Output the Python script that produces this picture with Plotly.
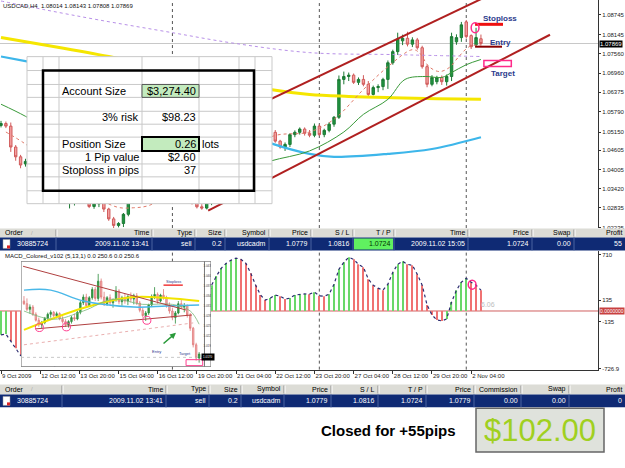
import plotly.graph_objects as go

W, H = 625, 468

# ---------------- main chart: USDCAD H4 bars (index 0 = 9 Oct 2009 04:00) ----------------
bar_index = list(range(99))
bar_open = [1.0536, 1.0542, 1.0534, 1.0470, 1.0440, 1.0418, 1.0426, 1.0400, 1.0385, 1.0392,
            1.0360, 1.0348, 1.0325, 1.0330, 1.0300, 1.0310, 1.0316, 1.0312, 1.0302, 1.0288,
            1.0296, 1.0301, 1.0280, 1.0250, 1.0230, 1.0236, 1.0264, 1.0302, 1.0318, 1.0335,
            1.0328, 1.0348, 1.0360, 1.0345, 1.0332, 1.0340, 1.0324, 1.0330, 1.0315, 1.0310,
            1.0298, 1.0287, 1.0283, 1.0316, 1.0360, 1.0395, 1.0425, 1.0450, 1.0470, 1.0482,
            1.0470, 1.0488, 1.0472, 1.0494, 1.0480, 1.0503, 1.0515, 1.0488, 1.0470, 1.0478,
            1.0508, 1.0515, 1.0525, 1.0512, 1.0506, 1.0534, 1.0508, 1.0521, 1.0540, 1.0561,
            1.0677, 1.0686, 1.0690, 1.0668, 1.0677, 1.0662, 1.0631, 1.0652, 1.0655, 1.0677,
            1.0728, 1.0762, 1.0795, 1.0803, 1.0785, 1.0798, 1.0774, 1.0716, 1.0662, 1.0670,
            1.0683, 1.0670, 1.0686, 1.0792, 1.0805, 1.0853, 1.0811, 1.0783, 1.08014]
bar_high = [1.0550, 1.0548, 1.0545, 1.0476, 1.0446, 1.0434, 1.0432, 1.0410, 1.0398, 1.0396,
            1.0372, 1.0356, 1.0338, 1.0334, 1.0318, 1.0322, 1.0328, 1.0318, 1.0308, 1.0300,
            1.0306, 1.0305, 1.0284, 1.0256, 1.0240, 1.0268, 1.0310, 1.0325, 1.0340, 1.0350,
            1.0355, 1.0372, 1.0368, 1.0352, 1.0345, 1.0348, 1.0336, 1.0338, 1.0326, 1.0318,
            1.0304, 1.0295, 1.0322, 1.0366, 1.0402, 1.0432, 1.0458, 1.0478, 1.0490, 1.0488,
            1.0494, 1.0492, 1.0498, 1.0500, 1.0508, 1.0522, 1.0522, 1.0492, 1.0484, 1.0512,
            1.0521, 1.0530, 1.0530, 1.0522, 1.0542, 1.0540, 1.0526, 1.0546, 1.0565, 1.0689,
            1.0701, 1.0698, 1.0695, 1.0683, 1.0690, 1.0672, 1.0658, 1.0662, 1.0682, 1.0735,
            1.0768, 1.0820, 1.0814, 1.0823, 1.0806, 1.0804, 1.0780, 1.0722, 1.0690, 1.0688,
            1.0689, 1.0692, 1.0820, 1.0815, 1.0853, 1.0859, 1.0815, 1.0835, 1.08143]
bar_low = [1.0530, 1.0528, 1.0455, 1.0428, 1.0405, 1.0410, 1.0395, 1.0378, 1.0370, 1.0355,
           1.0340, 1.0318, 1.0310, 1.0296, 1.0282, 1.0291, 1.0305, 1.0298, 1.0283, 1.0281,
           1.0286, 1.0271, 1.0244, 1.0222, 1.0224, 1.0225, 1.0258, 1.0296, 1.0310, 1.0322,
           1.0320, 1.0340, 1.0338, 1.0325, 1.0322, 1.0318, 1.0312, 1.0310, 1.0304, 1.0294,
           1.0282, 1.0278, 1.0279, 1.0292, 1.0352, 1.0388, 1.0418, 1.0442, 1.0462, 1.0460,
           1.0464, 1.0466, 1.0468, 1.0474, 1.0476, 1.0497, 1.0483, 1.0465, 1.0458, 1.0470,
           1.0500, 1.0508, 1.0505, 1.0500, 1.0500, 1.0504, 1.0500, 1.0515, 1.0532, 1.0556,
           1.0662, 1.0672, 1.0663, 1.0660, 1.0656, 1.0622, 1.0628, 1.0638, 1.0644, 1.0648,
           1.0722, 1.0752, 1.0782, 1.0778, 1.0776, 1.0768, 1.0710, 1.0653, 1.0656, 1.0662,
           1.0660, 1.0658, 1.0672, 1.0783, 1.0792, 1.0802, 1.0770, 1.0778, 1.07808]
bar_close = [1.0542, 1.0534, 1.0470, 1.0440, 1.0415, 1.0426, 1.0400, 1.0385, 1.0392, 1.0360,
             1.0348, 1.0325, 1.0330, 1.0300, 1.0310, 1.0316, 1.0312, 1.0302, 1.0288, 1.0296,
             1.0301, 1.0280, 1.0250, 1.0230, 1.0236, 1.0264, 1.0302, 1.0318, 1.0335, 1.0328,
             1.0348, 1.0360, 1.0345, 1.0332, 1.0340, 1.0324, 1.0330, 1.0315, 1.0310, 1.0298,
             1.0287, 1.0283, 1.0318, 1.0360, 1.0395, 1.0425, 1.0450, 1.0470, 1.0482, 1.0470,
             1.0488, 1.0472, 1.0494, 1.0480, 1.0503, 1.0515, 1.0488, 1.0470, 1.0478, 1.0508,
             1.0515, 1.0525, 1.0512, 1.0506, 1.0534, 1.0508, 1.0521, 1.0540, 1.0561, 1.0677,
             1.0686, 1.0690, 1.0668, 1.0677, 1.0662, 1.0631, 1.0652, 1.0655, 1.0677, 1.0728,
             1.0762, 1.0801, 1.0803, 1.0785, 1.0798, 1.0774, 1.0716, 1.0662, 1.0683, 1.0683,
             1.0670, 1.0686, 1.0808, 1.0805, 1.0844, 1.0808, 1.0777, 1.0805, 1.07869]

price_tick_values = [1.08745, 1.08145, 1.07560, 1.06960, 1.06375, 1.05790, 1.05150,
                     1.04605, 1.04005, 1.03420, 1.02835, 1.02235]
price_tick_text = ["1.08745", "1.08145", "1.07560", "1.06960", "1.06375", "1.05790", "1.05150",
                   "1.04605", "1.04005", "1.03420", "1.02835", "1.02235"]
last_price = 1.07869
header_text = "USDCAD,H4  1.08014 1.08143 1.07808 1.07869"

time_tick_index = [0, 8, 16, 24, 32, 40, 48, 56, 64, 72, 80, 88, 96]
time_tick_text = ["9 Oct 2009", "12 Oct 12:00", "13 Oct 20:00", "15 Oct 04:00", "16 Oct 12:00",
                  "19 Oct 20:00", "21 Oct 04:00", "22 Oct 12:00", "23 Oct 20:00", "27 Oct 04:00",
                  "28 Oct 12:00", "29 Oct 20:00", "2 Nov 04:00"]
week_start_index = [35, 65, 95]

# moving averages (value at selected bars)
ma_yellow_x = [0, 11, 22, 33, 44, 55, 63, 71, 80, 89, 98]
ma_yellow_y = [1.0805, 1.0777, 1.0747, 1.0713, 1.0680, 1.0646, 1.0631, 1.0625, 1.0621, 1.0618, 1.0616]
ma_blue_x = [0, 5, 15, 25, 35, 45, 55, 63, 68, 79, 88, 98]
ma_blue_y = [1.0747, 1.0733, 1.0705, 1.0660, 1.0605, 1.0540, 1.0482, 1.0449, 1.0440, 1.0449, 1.0464, 1.0500]
ma_green_x = [0, 5, 12, 20, 28, 36, 44, 50, 55, 63, 70, 74, 79, 82.5, 86.6, 90, 92, 95, 98]
ma_green_y = [1.0601, 1.0564, 1.0500, 1.0420, 1.0350, 1.0325, 1.0345, 1.0400, 1.0427, 1.0458,
              1.0516, 1.0570, 1.0616, 1.0677, 1.0686, 1.0683, 1.0698, 1.0722, 1.0738]
ma_salmon_x = [1, 5, 10, 15, 20, 24, 27, 30, 36, 42, 48, 55, 63, 68, 74, 79, 84, 85.4, 87.4, 89.5, 91.5, 93.5, 95.6, 98]
ma_salmon_y = [1.0516, 1.0479, 1.0420, 1.0350, 1.0310, 1.0285, 1.0284, 1.0290, 1.0330, 1.0300, 1.0400,
               1.0500, 1.0516, 1.0555, 1.0646, 1.0716, 1.0768, 1.0759, 1.0716, 1.0701, 1.0713,
               1.0747, 1.0777, 1.0783]
ma_purple_x = [0, 9, 20, 35, 47, 63, 80, 98]
ma_purple_y = [1.0917, 1.0890, 1.0859, 1.0820, 1.0789, 1.0759, 1.0753, 1.0747]

channel_upper_x = [42.3, 100.0]
channel_upper_y = [1.05255, 1.0937]
channel_lower_x = [42.3, 112.1]
channel_lower_y = [1.02752, 1.08137]

# trade marks drawn on chart
stop_mark = dict(x0=96.8, x1=102.5, y=1.08456, label_x=101.9, label_y=1.08623)
entry_mark = dict(x0=96.8, x1=102.3, y=1.07772, label_x=101.9, label_y=1.07908)
target_mark = dict(x0=98.6, x1=104.2, y0=1.07163, y1=1.07346, label_x=102.5, label_y=1.06965)
stop_circle = dict(x0=96.0, x1=97.6, y0=1.08197, y1=1.08502)

# ---------------- MACD(5,13,1) ----------------
macd_values = [-300, -290, -380, -470, -560, -580, -620, -660, -630, -650,
               -670, -690, -650, -660, -590, -510, -440, -420, -430, -390,
               -350, -370, -440, -520, -470, -360, -190, -40, 90, 130,
               190, 250, 230, 170, 150, 100, 80, 30, -10, -50,
               -90, -100, 110, 325, 440, 540, 600, 640, 665, 650,
               600, 475, 325, 200, 137, 162, 200, 187, 150, 162,
               200, 212, 215, 212, 237, 190, 185, 212, 337, 525,
               612, 675, 650, 587, 550, 400, 325, 287, 262, 337,
               487, 587, 625, 587, 575, 462, 325, 75, -50, -112,
               -125, -100, 112, 262, 362, 412, 362, 325, 262]
macd_tick_values = [710, 135, -135, -726.9]
macd_tick_text = ["710", "135", "-135", "-726.9"]
macd_title = "MACD_Colored_v102 (5,13,1) 0.0 250.6 0.0 250.6"
macd_circle = dict(x0=95.4, x1=97.0, y0=275, y1=387)

# ---------------- inset screenshot (earlier trade) ----------------
inset_index = list(range(60))
inset_open = [1.0330, 1.0322, 1.0305, 1.0312, 1.0290, 1.0272, 1.0258, 1.0265, 1.0278, 1.0290,
              1.0296, 1.0286, 1.0292, 1.0276, 1.0268, 1.0258, 1.0268, 1.0280, 1.0276, 1.0296,
              1.0325, 1.0342, 1.0316, 1.0340, 1.0365, 1.0338, 1.0390, 1.0342, 1.0322, 1.0340,
              1.0325, 1.0334, 1.0360, 1.0328, 1.0340, 1.0330, 1.0344, 1.0336, 1.0346, 1.0324,
              1.0302, 1.0286, 1.0294, 1.0318, 1.0344, 1.0350, 1.0330, 1.0348, 1.0340, 1.0316,
              1.0300, 1.0280, 1.0294, 1.0322, 1.0312, 1.0316, 1.0288, 1.0248, 1.0198, 1.0158]
inset_high = [1.0345, 1.0338, 1.0320, 1.0318, 1.0296, 1.0280, 1.0270, 1.0282, 1.0295, 1.0302,
              1.0300, 1.0298, 1.0296, 1.0284, 1.0275, 1.0272, 1.0285, 1.0292, 1.0300, 1.0330,
              1.0350, 1.0352, 1.0345, 1.0372, 1.0372, 1.0412, 1.0398, 1.0358, 1.0345, 1.0350,
              1.0338, 1.0375, 1.0366, 1.0346, 1.0352, 1.0348, 1.0356, 1.0352, 1.0354, 1.0330,
              1.0310, 1.0300, 1.0322, 1.0350, 1.0372, 1.0356, 1.0352, 1.0366, 1.0346, 1.0326,
              1.0310, 1.0300, 1.0330, 1.0334, 1.0324, 1.0320, 1.0294, 1.0252, 1.0204, 1.0176]
inset_low = [1.0318, 1.0300, 1.0292, 1.0285, 1.0268, 1.0252, 1.0248, 1.0260, 1.0270, 1.0280,
             1.0282, 1.0278, 1.0272, 1.0262, 1.0252, 1.0250, 1.0262, 1.0270, 1.0272, 1.0290,
             1.0318, 1.0310, 1.0312, 1.0334, 1.0330, 1.0330, 1.0335, 1.0315, 1.0316, 1.0318,
             1.0310, 1.0328, 1.0320, 1.0316, 1.0322, 1.0318, 1.0326, 1.0320, 1.0318, 1.0296,
             1.0280, 1.0270, 1.0288, 1.0312, 1.0336, 1.0322, 1.0326, 1.0334, 1.0310, 1.0292,
             1.0272, 1.0262, 1.0290, 1.0306, 1.0296, 1.0280, 1.0240, 1.0190, 1.0150, 1.0144]
inset_close = [1.0322, 1.0305, 1.0312, 1.0290, 1.0272, 1.0258, 1.0265, 1.0278, 1.0290, 1.0296,
               1.0286, 1.0292, 1.0276, 1.0268, 1.0258, 1.0268, 1.0280, 1.0276, 1.0296, 1.0325,
               1.0342, 1.0316, 1.0340, 1.0365, 1.0338, 1.0390, 1.0342, 1.0322, 1.0340, 1.0325,
               1.0334, 1.0360, 1.0328, 1.0340, 1.0330, 1.0344, 1.0336, 1.0346, 1.0324, 1.0302,
               1.0286, 1.0294, 1.0318, 1.0344, 1.0350, 1.0330, 1.0348, 1.0340, 1.0316, 1.0300,
               1.0280, 1.0294, 1.0322, 1.0312, 1.0316, 1.0288, 1.0248, 1.0198, 1.0158, 1.0170]
inset_yellow_x = [0, 20, 37, 48, 59]
inset_yellow_y = [1.0243, 1.0309, 1.0342, 1.0339, 1.0330]
inset_blue_x = [0, 9, 20, 37, 48, 59]
inset_blue_y = [1.0363, 1.0363, 1.0330, 1.0312, 1.0315, 1.0318]
inset_green_x = [0, 10, 20, 30, 40, 50, 56, 59]
inset_green_y = [1.0300, 1.0275, 1.0300, 1.0335, 1.0320, 1.0320, 1.0300, 1.0260]
inset_pink_x = [0, 57]
inset_pink_y = [1.0198, 1.0264]
inset_upper_x = [-0.3, 54.6]
inset_upper_y = [1.0435, 1.0303]
inset_lower_x = [4, 56.6]
inset_lower_y = [1.0246, 1.0288]
inset_circles = [(5.2, 1.0250), (14.3, 1.0252), (41.4, 1.0272)]
inset_tick_values = [1.0435, 1.0405, 1.0375, 1.0345, 1.0315, 1.0285, 1.0255, 1.0225, 1.0195]
inset_tick_text = ["1.0435", "1.0405", "1.0375", "1.0345", "1.0315", "1.0285", "1.0255", "1.0225", "1.0195"]

# ---------------- spreadsheet overlay ----------------
sheet_rows = [("Account Size", "$3,274.40", "", 91.5, "left"),
              ("3% risk", "$98.23", "", 118, "right"),
              ("Position Size", "0.26", "lots", 145, "left"),
              ("1 Pip value", "$2.60", "", 158.5, "right"),
              ("Stoploss in pips", "37", "", 171.5, "left")]

# ---------------- terminal rows ----------------
top_header = ["Order", "Time", "Type", "Size", "Symbol", "Price", "S / L", "T / P", "Time", "Price", "Swap", "Profit"]
top_row = ["30885724", "2009.11.02 13:41", "sell", "0.2", "usdcadm", "1.0779", "1.0816", "1.0724",
           "2009.11.02 15:05", "1.0724", "0.00", "55"]
bottom_header = ["Order", "Time", "Type", "Size", "Symbol", "Price", "S / L", "T / P", "Price", "Commission", "Swap", "Profit"]
bottom_row = ["30885724", "2009.11.02 13:41", "sell", "0.2", "usdcadm", "1.0779", "1.0816", "1.0724",
              "1.0779", "0.00", "0.00", "0"]
result_text = "Closed for +55pips"
result_money = "$102.00"

# ================= layout geometry (pixels) =================
MAIN_TOP, MAIN_BOT = 0, 229.5
MACD_TOP, MACD_BOT = 253, 372
PLOT_RIGHT = 598
X_RANGE = [-0.204, 121.9]
FONT = "Liberation Sans"


def P(x):
    return x / W


def Q(y):
    return 1 - y / H


shapes, annotations = [], []


def add_rect(x0, y0, x1, y1, fill=None, line=None, lw=0):
    shapes.append(dict(type="rect", xref="paper", yref="paper", x0=P(x0), x1=P(x1), y0=Q(y1), y1=Q(y0),
                       fillcolor=fill or "rgba(0,0,0,0)",
                       line=dict(color=line or "rgba(0,0,0,0)", width=lw), layer="above"))


def add_line(x0, y0, x1, y1, color, lw=1, dash="solid"):
    shapes.append(dict(type="line", xref="paper", yref="paper", x0=P(x0), x1=P(x1), y0=Q(y0), y1=Q(y1),
                       line=dict(color=color, width=lw, dash=dash), layer="above"))


def add_text(x, y, s, size=7, color="black", xanchor="left", bold=False, family=FONT, **kw):
    annotations.append(dict(xref="paper", yref="paper", x=P(x), y=Q(y),
                            text=f"<b>{s}</b>" if bold else s, showarrow=False,
                            xanchor=xanchor, yanchor="middle", borderpad=0,
                            font=dict(size=size, color=color, family=family), **kw))


fig = go.Figure()

# ---- main chart traces ----
fig.add_trace(go.Scatter(x=ma_purple_x, y=ma_purple_y, mode="lines", line=dict(color="#b890e8", width=1, dash="dot", shape="spline"),
                         xaxis="x", yaxis="y", hoverinfo="skip"))
fig.add_trace(go.Candlestick(x=bar_index, open=bar_open, high=bar_high, low=bar_low, close=bar_close,
                             increasing=dict(line=dict(color="#1c7a34", width=1), fillcolor="#1f9440"),
                             decreasing=dict(line=dict(color="#d05a5a", width=1), fillcolor="#f3a0a0"),
                             whiskerwidth=0, xaxis="x", yaxis="y", hoverinfo="skip"))
fig.add_trace(go.Scatter(x=ma_yellow_x, y=ma_yellow_y, mode="lines", line=dict(color="#f5e600", width=3, shape="spline"),
                         xaxis="x", yaxis="y", hoverinfo="skip"))
fig.add_trace(go.Scatter(x=ma_blue_x, y=ma_blue_y, mode="lines", line=dict(color="#3db6ea", width=2.2, shape="spline"),
                         xaxis="x", yaxis="y", hoverinfo="skip"))
fig.add_trace(go.Scatter(x=ma_green_x, y=ma_green_y, mode="lines", line=dict(color="#3a9a3a", width=1, shape="spline"),
                         xaxis="x", yaxis="y", hoverinfo="skip"))
fig.add_trace(go.Scatter(x=ma_salmon_x, y=ma_salmon_y, mode="lines", line=dict(color="#e07a6a", width=1, dash="dot", shape="spline"),
                         xaxis="x", yaxis="y", hoverinfo="skip"))
for cx, cy in ((channel_upper_x, channel_upper_y), (channel_lower_x, channel_lower_y)):
    fig.add_trace(go.Scatter(x=cx, y=cy, mode="lines", line=dict(color="#b02020", width=2),
                             xaxis="x", yaxis="y", hoverinfo="skip"))

# ---- MACD ----
macd_colors = ["#6ad86a" if (i == 0 or v >= macd_values[i - 1]) else "#f07272" for i, v in enumerate(macd_values)]
fig.add_trace(go.Bar(x=bar_index, y=macd_values, width=0.24, marker=dict(color=macd_colors, line=dict(width=0)),
                     xaxis="x2", yaxis="y2", hoverinfo="skip"))
fig.add_trace(go.Scatter(x=bar_index, y=macd_values, mode="lines", line=dict(color="#2c2c70", width=1.2, dash="dot"),
                         xaxis="x2", yaxis="y2", hoverinfo="skip"))

# ---- inset ----
ins_lo, ins_hi = 1.0132, 1.0450
fig.add_trace(go.Bar(x=[31], y=[ins_hi - ins_lo], base=[ins_lo], width=[64],
                     marker=dict(color="white", line=dict(color="#666666", width=1)),
                     xaxis="x3", yaxis="y3", hoverinfo="skip"))
fig.add_trace(go.Candlestick(x=inset_index, open=inset_open, high=inset_high, low=inset_low, close=inset_close,
                             increasing=dict(line=dict(color="#2a8a3a", width=0.8), fillcolor="#3aa04a"),
                             decreasing=dict(line=dict(color="#e07a7a", width=0.8), fillcolor="#f4b0b0"),
                             whiskerwidth=0, xaxis="x3", yaxis="y3", hoverinfo="skip"))
for xs, ys, st in ((inset_pink_x, inset_pink_y, dict(color="#eab0b0", width=1, dash="dot")),
                   (inset_yellow_x, inset_yellow_y, dict(color="#f2e400", width=2, shape="spline")),
                   (inset_blue_x, inset_blue_y, dict(color="#4ab8e8", width=1.5, shape="spline")),
                   (inset_green_x, inset_green_y, dict(color="#7ab87a", width=0.8, shape="spline")),
                   (inset_upper_x, inset_upper_y, dict(color="#b04040", width=1)),
                   (inset_lower_x, inset_lower_y, dict(color="#b04040", width=1))):
    fig.add_trace(go.Scatter(x=xs, y=ys, mode="lines", line=st, xaxis="x3", yaxis="y3", hoverinfo="skip"))
fig.add_trace(go.Scatter(x=[60.8, 60.8], y=[ins_lo, ins_hi], mode="lines", line=dict(color="#555", width=0.8),
                         xaxis="x3", yaxis="y3", hoverinfo="skip"))
fig.add_trace(go.Scatter(x=[-1, 60.8], y=[1.0160, 1.0160], mode="lines", line=dict(color="#bbbbbb", width=0.8, dash="dot"),
                         xaxis="x3", yaxis="y3", hoverinfo="skip"))
fig.add_trace(go.Scatter(x=[62] * len(inset_tick_values), y=inset_tick_values, mode="text", text=inset_tick_text,
                         textfont=dict(size=3, color="#444", family=FONT), xaxis="x3", yaxis="y3", hoverinfo="skip"))

# ---- background-ish shapes (separators, ask line, zero line) ----
for j in week_start_index:
    shapes.append(dict(type="line", xref="x", yref="paper", x0=j, x1=j, y0=Q(MAIN_BOT), y1=Q(MAIN_TOP),
                       line=dict(color="#555", width=1, dash="dot"), layer="below"))
    shapes.append(dict(type="line", xref="x2", yref="paper", x0=j, x1=j, y0=Q(MACD_BOT), y1=Q(MACD_TOP),
                       line=dict(color="#555", width=1, dash="dot"), layer="below"))
shapes.append(dict(type="line", xref="paper", yref="y", x0=0, x1=P(PLOT_RIGHT), y0=last_price, y1=last_price,
                   line=dict(color="#c8c8c8", width=1), layer="below"))
shapes.append(dict(type="line", xref="paper", yref="y2", x0=0, x1=P(PLOT_RIGHT), y0=0, y1=0,
                   line=dict(color="#d06060", width=1), layer="below"))

# ---- trade marks ----
shapes.append(dict(type="line", xref="x", yref="y", x0=stop_mark["x0"], x1=stop_mark["x1"], y0=stop_mark["y"], y1=stop_mark["y"],
                   line=dict(color="#ee1010", width=3), layer="above"))
shapes.append(dict(type="line", xref="x", yref="y", x0=entry_mark["x0"], x1=entry_mark["x1"], y0=entry_mark["y"], y1=entry_mark["y"],
                   line=dict(color="#8a0000", width=2), layer="above"))
shapes.append(dict(type="rect", xref="x", yref="y", x0=target_mark["x0"], x1=target_mark["x1"], y0=target_mark["y0"], y1=target_mark["y1"],
                   line=dict(color="#ff2a8a", width=1.5), layer="above"))
shapes.append(dict(type="circle", xref="x", yref="y", x0=stop_circle["x0"], x1=stop_circle["x1"], y0=stop_circle["y0"], y1=stop_circle["y1"],
                   line=dict(color="#ff2a8a", width=1.5), layer="above"))
shapes.append(dict(type="circle", xref="x2", yref="y2", x0=macd_circle["x0"], x1=macd_circle["x1"], y0=macd_circle["y0"], y1=macd_circle["y1"],
                   line=dict(color="#ff2a8a", width=1.5), layer="above"))
for lab, m in (("Stoploss", stop_mark), ("Entry", entry_mark), ("Target", target_mark)):
    annotations.append(dict(xref="x", yref="y", x=m["label_x"], y=m["label_y"], text=f"<b>{lab}</b>", showarrow=False,
                            xanchor="center", yanchor="middle", font=dict(size=8, color="#2b3a8c", family=FONT)))

# inset marks
for cx, cy in inset_circles:
    shapes.append(dict(type="circle", xref="x3", yref="y3", x0=cx - 1.35, x1=cx + 1.35, y0=cy - 0.0012, y1=cy + 0.0012,
                       line=dict(color="#ff3d8f", width=1), layer="above"))
shapes.append(dict(type="line", xref="x3", yref="y3", x0=47, x1=53.5, y0=1.0378, y1=1.0378,
                   line=dict(color="#ee1010", width=1.2), layer="above"))
shapes.append(dict(type="rect", xref="x3", yref="y3", x0=54.6, x1=60.2, y0=1.0135, y1=1.0153,
                   line=dict(color="#ff3d8f", width=1), layer="above"))
annotations.append(dict(xref="x3", yref="y3", x=50.2, y=1.0390, text="Stoploss", showarrow=False,
                        font=dict(size=4, color="#2b3a8c", family=FONT)))
annotations.append(dict(xref="x3", yref="y3", x=44.7, y=1.0177, text="Entry", showarrow=False,
                        font=dict(size=4, color="#2b3a8c", family=FONT)))
annotations.append(dict(xref="x3", yref="y3", x=54.2, y=1.0171, text="Target", showarrow=False,
                        font=dict(size=4, color="#2b3a8c", family=FONT)))
annotations.append(dict(xref="x3", yref="y3", x=51.2, y=1.0234, ax=46.5, ay=1.0198, axref="x3", ayref="y3",
                        text="", showarrow=True, arrowhead=2, arrowsize=0.8, arrowwidth=1.5, arrowcolor="#2a9a3a"))
annotations.append(dict(xref="x3", yref="y3", x=62, y=1.0162, text="1.0170", showarrow=False, bgcolor="black",
                        font=dict(size=3, color="white", family=FONT)))

# ---- chart texts ----
add_text(2, 6, header_text, size=6, color="#111")
annotations.append(dict(xref="paper", yref="y", x=P(599), y=last_price, text=f"{last_price:.5f}", showarrow=False,
                        xanchor="left", yanchor="middle", bgcolor="black", borderpad=0,
                        font=dict(size=6, color="white", family=FONT)))
add_text(4, 257.5, macd_title, size=6, color="#111")
annotations.append(dict(xref="x2", yref="y2", x=97.6, y=87, text="6.06", showarrow=False, xanchor="left",
                        font=dict(size=7, color="#bdbdbd", family=FONT)))
annotations.append(dict(xref="paper", yref="y2", x=P(599), y=0, text="0.0000000", showarrow=False, xanchor="left",
                        yanchor="middle", bgcolor="#c84040", borderpad=0, font=dict(size=5, color="white", family=FONT)))

# ---- spreadsheet overlay ----
add_rect(27, 57, 272, 205, fill="white")
for gx in [27, 43, 59, 142, 199, 239, 255, 272]:
    add_line(gx, 57, gx, 205, "#c9c9c9", 1)
for gy in [57, 71, 85, 98, 112, 125, 138, 152, 165, 178, 192, 205]:
    add_line(27, gy, 272, gy, "#c9c9c9", 1)
add_rect(142, 85, 199, 98, fill="#c3ebbe", line="#555", lw=1)
add_rect(142, 138, 199, 152, fill="#c3ebbe", line="black", lw=2)
add_rect(43, 71, 254, 192, line="black", lw=2.5)
for label, value, unit, yy, align in sheet_rows:
    if align == "left":
        add_text(61, yy, label, size=11)
    else:
        add_text(140, yy, label, size=11, xanchor="right")
    add_text(197, yy, value, size=11, xanchor="right")
    if unit:
        add_text(201, yy, unit, size=11)


# ---- terminal rows ----
def terminal(y_head, y_row, y_end, edges, header, row, tp_cell=None):
    add_rect(0, y_head, W, y_row, fill="#dcdcd6")
    add_rect(0, y_row, W, y_end, fill="#0f2a74")
    if tp_cell:
        add_rect(tp_cell[0], y_row + 1, tp_cell[1], y_end - 1, fill="#60f060")
    for ex in edges[:-1]:
        add_line(ex, y_head + 1, ex, y_row - 1, "#8c8c8c", 1)
        add_line(ex + 1, y_head + 1, ex + 1, y_row - 1, "#ffffff", 1)
        add_line(ex, y_row, ex, y_end, "#4a62a0", 1)
    hy = (y_head + y_row) / 2
    ry = (y_row + y_end) / 2
    add_text(4, hy, header[0], size=7)
    add_text(30, hy, "/", size=6, color="#aaa")
    for ex, txt in zip(edges[1:], header[1:]):
        add_text(ex - 2, hy, txt, size=7, xanchor="right")
    add_rect(3, y_row + 2, 10, y_end - 2, fill="white", line="#999", lw=0.5)
    add_rect(7, y_end - 5, 10, y_end - 2, fill="#dd2222")
    add_text(16, ry, row[0], size=7, color="white")
    for i, (ex, txt) in enumerate(zip(edges[1:], row[1:])):
        col = "#003300" if (tp_cell and i == 6) else "white"
        add_text(ex - 2, ry, txt, size=7, color=col, xanchor="right")


terminal(230, 239, 252, [56, 152, 195, 225, 269, 311, 353, 394, 468, 532, 574, 625], top_header, top_row,
         tp_cell=(354, 393))
terminal(387, 397, 410, [62, 166, 209, 241, 284, 331, 378, 426, 474, 521, 569, 625], bottom_header, bottom_row)

add_text(389, 433, result_text, size=15, bold=True, xanchor="center")
add_rect(476, 411, 604, 455, fill="#dfe2dc", line="#666", lw=1.5)
add_text(540, 433, result_money, size=31, color="#a0d020", xanchor="center")

# ================= axes =================
common_x = dict(range=X_RANGE, showgrid=False, zeroline=False, fixedrange=True)
fig.update_layout(
    width=W, height=H, margin=dict(l=0, r=0, t=0, b=0),
    paper_bgcolor="white", plot_bgcolor="rgba(0,0,0,0)", showlegend=False,
    xaxis=dict(domain=[0, P(PLOT_RIGHT)], anchor="y", showticklabels=False, ticks="", showline=False,
               rangeslider=dict(visible=False), **common_x),
    yaxis=dict(domain=[Q(MAIN_BOT), Q(MAIN_TOP)], anchor="x", range=[1.02220, 1.09201], side="right",
               tickvals=price_tick_values, ticktext=price_tick_text, ticks="outside", ticklen=2, tickcolor="#333",
               tickfont=dict(size=6, color="#222", family=FONT), showline=True, linecolor="#333", linewidth=1,
               showgrid=False, zeroline=False, fixedrange=True),
    xaxis2=dict(domain=[0, P(PLOT_RIGHT)], anchor="y2", tickvals=time_tick_index, ticktext=time_tick_text,
                ticklabelposition="outside right", tickangle=0, ticks="outside", ticklen=3, tickcolor="#333",
                tickfont=dict(size=6, color="#222", family=FONT), showline=True, linecolor="#333", linewidth=1,
                **common_x),
    yaxis2=dict(domain=[Q(MACD_BOT), Q(MACD_TOP)], anchor="x2", range=[-737.5, 750], side="right",
                tickvals=macd_tick_values, ticktext=macd_tick_text, ticks="outside", ticklen=2, tickcolor="#333",
                tickfont=dict(size=6, color="#222", family=FONT), showline=True, linecolor="#333", linewidth=1,
                showgrid=False, zeroline=False, fixedrange=True),
    xaxis3=dict(domain=[P(21), P(211)], anchor="y3", range=[-1, 63], visible=False,
                rangeslider=dict(visible=False), fixedrange=True),
    yaxis3=dict(domain=[Q(369), Q(263)], anchor="x3", range=[ins_lo, ins_hi], visible=False, fixedrange=True),
    shapes=shapes, annotations=annotations,
)

fig.write_html("out.html")
